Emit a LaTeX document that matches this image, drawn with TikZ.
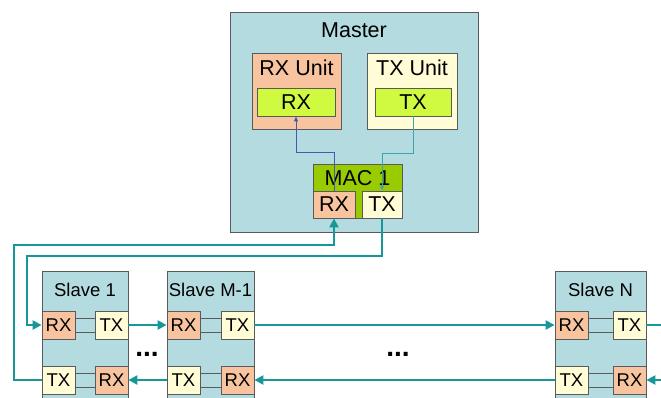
\documentclass[tikz,border=0pt]{standalone}
\usepackage{fontspec}
\setmainfont{Liberation Sans}
\usetikzlibrary{arrows.meta,positioning}
\definecolor{panel}{RGB}{180,220,224}
\definecolor{rxfill}{RGB}{248,196,160}
\definecolor{txfill}{RGB}{255,252,214}
\definecolor{lime}{RGB}{208,250,64}
\definecolor{macgreen}{RGB}{153,204,0}
\definecolor{ring}{RGB}{22,152,152}
\definecolor{edge}{RGB}{90,90,90}
\definecolor{uplink}{RGB}{70,90,170}
\definecolor{downlink}{RGB}{60,165,175}
\begin{document}
\begin{tikzpicture}[x=1pt,y=-1pt,
  box/.style={draw=edge,line width=0.8pt,inner sep=0pt},
  big/.style={font=\fontsize{21.5}{21.5}\selectfont},
  port/.style={box,minimum width=33pt,minimum height=28pt,font=\fontsize{18.5}{18.5}\selectfont},
  link/.style={ring,line width=2.6pt,-{Triangle[length=9pt,width=9pt]}},
  wire/.style={line width=0.9pt,-{Triangle[length=5pt,width=4pt]}}]
\useasboundingbox (0,0) rectangle (661,397);
\clip (0,0) rectangle (661,397);

% master side
\node[box,fill=panel,minimum width=248pt,minimum height=220pt] (master) at (354,122) {};
\node[big] (mastertitle) at (354,30) {Master};
\node[box,fill=rxfill,minimum width=89pt,minimum height=76pt] (rxunit) at (296.5,91) {};
\node[big] (rxunittitle) at (296.5,68) {RX Unit};
\node[box,fill=lime,minimum width=78pt,minimum height=28pt,big] (rxin) at (296,102) {RX};
\node[box,fill=txfill,minimum width=90pt,minimum height=76pt] (txunit) at (412,91) {};
\node[big] (txunittitle) at (412,68) {TX Unit};
\node[box,fill=lime,minimum width=76pt,minimum height=28pt,big] (txin) at (413,102) {TX};
\node[box,fill=macgreen,minimum width=89pt,minimum height=54pt] (mac) at (357.5,191) {};
\node[big] (mactitle) at (357.5,178) {MAC 1};
\node[box,fill=rxfill,minimum width=42pt,minimum height=27pt,big] (macrx) at (334,204.5) {RX};
\node[box,fill=txfill,minimum width=40pt,minimum height=27pt,big] (mactx) at (382,204.5) {TX};

\draw[wire,uplink] (macrx.north) -- ++(0,-38) -| (rxin.south);
\draw[wire,downlink] (txin.south) -- ++(0,37) -| (mactx.north);

% slaves
\foreach \n/\x/\w/\t in {s1/85/86/Slave 1,sm/210.5/87/Slave M-1,sn/600.5/91/Slave N}{
  \node[box,fill=panel,minimum width=\w pt,minimum height=140pt] (\n) at (\x,341) {};
  \node[font=\fontsize{18.5}{18.5}\selectfont] (\n-title) at (\x,290) {\t};
  \node[port,fill=rxfill,anchor=west] (\n-rxa) at (\n.west |- 0,325) {RX};
  \node[port,fill=txfill,anchor=east] (\n-txa) at (\n.east |- 0,325) {TX};
  \node[port,fill=txfill,anchor=west] (\n-txb) at (\n.west |- 0,380) {TX};
  \node[port,fill=rxfill,anchor=east] (\n-rxb) at (\n.east |- 0,380) {RX};
  \draw[edge,line width=0.8pt] ([yshift=7pt]\n-rxa.east) -- ([yshift=7pt]\n-txa.west);
  \draw[edge,line width=0.8pt] ([yshift=-7pt]\n-rxa.east) -- ([yshift=-7pt]\n-txa.west);
  \draw[edge,line width=0.8pt] ([yshift=7pt]\n-txb.east) -- ([yshift=7pt]\n-rxb.west);
  \draw[edge,line width=0.8pt] ([yshift=-7pt]\n-txb.east) -- ([yshift=-7pt]\n-rxb.west);
}
\node[font=\bfseries\fontsize{28}{28}\selectfont] (dots1) at (147,354) {...};
\node[font=\bfseries\fontsize{28}{28}\selectfont] (dots2) at (398,354) {...};

% ring
\coordinate (outer) at (14,245);
\coordinate (inner) at (27,256);
\coordinate (east1) at (661,325);
\coordinate (east2) at (661,380);
\draw[link] (s1-txb.west) -| (outer) -| (macrx.south);
\draw[link] (mactx.south) |- (inner) |- (s1-rxa.west);
\draw[link] (s1-txa.east) -- (sm-rxa.west);
\draw[link] (sm-txa.east) -- (sn-rxa.west);
\draw[link,-] (sn-txa.east) -- (east1);
\draw[link] (east2) -- (sn-rxb.east);
\draw[link] (sn-txb.west) -- (sm-rxb.east);
\draw[link] (sm-txb.west) -- (s1-rxb.east);
\end{tikzpicture}
\end{document}
